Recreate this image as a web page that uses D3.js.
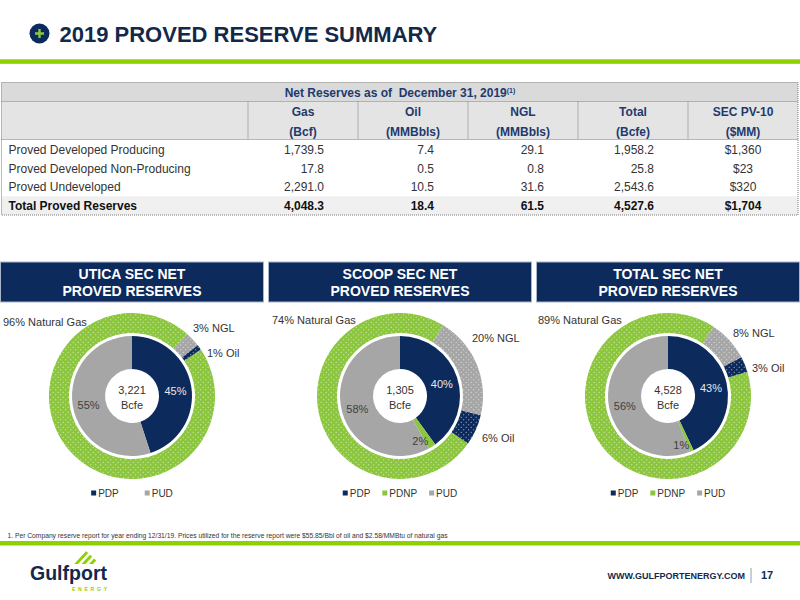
<!DOCTYPE html>
<html>
<head>
<meta charset="utf-8">
<script src="https://cdn.jsdelivr.net/npm/d3@7"></script>
<style>
  body { margin: 0; background: #fff; }
  svg { display: block; font-family: "Liberation Sans", Arial, sans-serif; }
</style>
</head>
<body>
<svg id="chart" width="800" height="600"></svg>
<script>
// ---- table data ----
const columns = ["Gas", "Oil", "NGL", "Total", "SEC PV-10"];
const units = ["(Bcf)", "(MMBbls)", "(MMBbls)", "(Bcfe)", "($MM)"];
const rowLabels = [
  "Proved Developed Producing",
  "Proved Developed Non-Producing",
  "Proved Undeveloped",
  "Total Proved Reserves"
];
const gasBcf = [1739.5, 17.8, 2291.0, 4048.3];
const oilMMBbls = [7.4, 0.5, 10.5, 18.4];
const nglMMBbls = [29.1, 0.8, 31.6, 61.5];
const totalBcfe = [1958.2, 25.8, 2543.6, 4527.6];
const pv10MM = [1360, 23, 320, 1704];

// ---- donut data ----
const panels = ["UTICA", "SCOOP", "TOTAL"];
const panelTotals = [3221, 1305, 4528];
const reserveCats = ["PDP", "PDNP", "PUD"];
const uticaReserves = [45, 0, 55];
const scoopReserves = [40, 2, 58];
const totalReserves = [43, 1, 56];
const fuelCats = ["Natural Gas", "NGL", "Oil"];
const uticaFuel = [96, 3, 1];
const scoopFuel = [74, 20, 6];
const totalFuel = [89, 8, 3];

const reserveShares = [uticaReserves, scoopReserves, totalReserves];
const fuelShares = [uticaFuel, scoopFuel, totalFuel];

// layout (not data): where the outer ring starts, and outer label offsets
const ringStartDeg = [56, 125, 73];
const fuelLabelOffsets = [
  [[-129, -70], [61, -64], [75, -39]],
  [[-128, -72], [72, -54], [82, 46]],
  [[-130, -72], [65, -59], [84, -24]]
];

const navy = "#0c2a5c";
const green = "#8cc63f";
const barGreen = "#8fd000";
const gray = "#a6a6a6";
const headNavy = "#1d3a6e";
const reserveColor = d3.scaleOrdinal().domain(reserveCats).range([navy, green, gray]);
const fuelColor = d3.scaleOrdinal().domain(fuelCats).range([green, gray, navy]);

const svg = d3.select("#chart");

// dotted fills for the outer ring
const defs = svg.append("defs");
fuelCats.forEach((c, k) => {
  const p = defs.append("pattern")
    .attr("id", `dots-${k}`)
    .attr("width", 5).attr("height", 5)
    .attr("patternUnits", "userSpaceOnUse");
  p.append("rect").attr("width", 5).attr("height", 5).attr("fill", fuelColor(c));
  p.append("circle").attr("cx", 1.2).attr("cy", 1.2).attr("r", 0.55).attr("fill", "#fff").attr("opacity", 0.8);
  p.append("circle").attr("cx", 3.7).attr("cy", 3.7).attr("r", 0.55).attr("fill", "#fff").attr("opacity", 0.8);
});

// ---- title ----
svg.append("circle").attr("cx", 39.5).attr("cy", 33.5).attr("r", 10).attr("fill", navy);
svg.append("path")
  .attr("d", "M35,33.5H44M39.5,29V38")
  .attr("stroke", green).attr("stroke-width", 2.4);
svg.append("text")
  .attr("x", 59.5).attr("y", 42)
  .attr("font-size", 22).attr("font-weight", "bold")
  .attr("fill", "#13294b")
  .text("2019 PROVED RESERVE SUMMARY");
svg.append("rect").attr("x", 0).attr("y", 59.3).attr("width", 800).attr("height", 4.5).attr("fill", barGreen);

// ---- table ----
const tableLeft = 1.5, tableRight = 798, tableTop = 82.5, tableBottom = 215;
const head1Bottom = 101.5, head2Bottom = 139.5;
const x = d3.scaleBand().domain(columns).range([248, 798]);
const y = d3.scaleBand().domain(rowLabels).range([140.5, tableBottom]);
const fmt1 = d3.format(",.1f");
const fmtUsd = (v) => "$" + d3.format(",")(v);
const tableCols = [gasBcf, oilMMBbls, nglMMBbls, totalBcfe, pv10MM];

const table = svg.append("g");
table.append("rect")
  .attr("x", tableLeft).attr("y", tableTop)
  .attr("width", tableRight - tableLeft).attr("height", head1Bottom - tableTop)
  .attr("fill", "#dadada");
table.append("rect")
  .attr("x", tableLeft).attr("y", head1Bottom)
  .attr("width", tableRight - tableLeft).attr("height", head2Bottom - head1Bottom)
  .attr("fill", "#e4e4e4");
table.append("rect")
  .attr("x", tableLeft).attr("y", y(rowLabels[3]))
  .attr("width", tableRight - tableLeft).attr("height", y.bandwidth())
  .attr("fill", "#f0f0f0");

const dotted = (sel) => sel.attr("stroke", "#7a7a7a").attr("stroke-width", 1).attr("stroke-dasharray", "1,1").attr("fill", "none");
table.append("rect")
  .attr("x", tableLeft).attr("y", tableTop)
  .attr("width", tableRight - tableLeft).attr("height", tableBottom - tableTop)
  .call(dotted);
[head1Bottom, head2Bottom].forEach((yy) => {
  table.append("line").attr("x1", tableLeft).attr("x2", tableRight).attr("y1", yy).attr("y2", yy).call(dotted);
});
columns.forEach((c) => {
  table.append("line").attr("x1", x(c)).attr("x2", x(c)).attr("y1", head1Bottom).attr("y2", head2Bottom).call(dotted);
});

const titleText = table.append("text")
  .attr("x", 400).attr("y", 96.5)
  .attr("text-anchor", "middle")
  .attr("font-size", 12).attr("font-weight", "bold").attr("fill", headNavy);
titleText.append("tspan").text("Net Reserves as of\u00a0 December 31, 2019");
titleText.append("tspan").attr("font-size", 7).attr("dy", -4).text("(1)");

columns.forEach((c, i) => {
  const cx = x(c) + x.bandwidth() / 2;
  table.append("text").attr("x", cx).attr("y", 116)
    .attr("text-anchor", "middle").attr("font-size", 12).attr("font-weight", "bold")
    .attr("fill", headNavy).text(c);
  table.append("text").attr("x", cx).attr("y", 136)
    .attr("text-anchor", "middle").attr("font-size", 12).attr("font-weight", "bold")
    .attr("fill", headNavy).text(units[i]);
});

rowLabels.forEach((r, j) => {
  const isTotal = j === rowLabels.length - 1;
  const ty = y(r) + y.bandwidth() / 2 + 4.2;
  table.append("text").attr("x", 8.5).attr("y", ty)
    .attr("font-size", 12).attr("font-weight", isTotal ? "bold" : "normal")
    .attr("fill", isTotal ? "#111" : "#333").text(r);
  tableCols.forEach((vals, i) => {
    const c = columns[i];
    const isPv = i === columns.length - 1;
    table.append("text")
      .attr("x", isPv ? x(c) + x.bandwidth() / 2 : x(c) + x.bandwidth() - 34)
      .attr("y", ty)
      .attr("text-anchor", isPv ? "middle" : "end")
      .attr("font-size", 12).attr("font-weight", isTotal ? "bold" : "normal")
      .attr("fill", isTotal ? "#111" : "#333")
      .text(isPv ? fmtUsd(vals[j]) : fmt1(vals[j]));
  });
});

// ---- donut panels ----
const panelGap = 4;
const panelW = (800 - panelGap * 2) / 3;
const donutY = 396;
const holeR = 27, pieR = 60, ringIn = 63, ringOut = 83;
const innerArc = d3.arc().innerRadius(holeR).outerRadius(pieR);
const ringArc = d3.arc().innerRadius(ringIn).outerRadius(ringOut);

panels.forEach((name, i) => {
  const px = i * (panelW + panelGap);
  const cx = px + panelW / 2;

  svg.append("rect")
    .attr("x", px + 0.5).attr("y", 262)
    .attr("width", panelW - 1).attr("height", 40)
    .attr("fill", navy).attr("stroke", "#a8b6cb").attr("stroke-width", 1);
  svg.append("text").attr("x", cx).attr("y", 278.5)
    .attr("text-anchor", "middle").attr("font-size", 14).attr("font-weight", "bold")
    .attr("fill", "#fff").text(`${name} SEC NET`);
  svg.append("text").attr("x", cx).attr("y", 296)
    .attr("text-anchor", "middle").attr("font-size", 14).attr("font-weight", "bold")
    .attr("fill", "#fff").text("PROVED RESERVES");

  const g = svg.append("g").attr("transform", `translate(${cx},${donutY})`);

  // outer ring: fuel mix
  const rot = (ringStartDeg[i] * Math.PI) / 180;
  const fuelData = fuelCats.map((c, k) => ({ cat: c, k, value: fuelShares[i][k] }));
  const fuelPie = d3.pie().sort(null).value((d) => d.value)
    .startAngle(rot).endAngle(rot + 2 * Math.PI);
  g.selectAll("path.ring")
    .data(fuelPie(fuelData))
    .enter()
    .append("path")
    .attr("class", "ring")
    .attr("d", ringArc)
    .attr("fill", (d) => `url(#dots-${d.data.k})`);

  g.selectAll("text.fuel")
    .data(fuelData)
    .enter()
    .append("text")
    .attr("class", "fuel")
    .attr("x", (d) => fuelLabelOffsets[i][d.k][0])
    .attr("y", (d) => fuelLabelOffsets[i][d.k][1])
    .attr("font-size", 11).attr("fill", "#333")
    .text((d) => `${d.value}% ${d.cat}`);

  // inner pie: reserve category
  const resData = reserveCats.map((c, k) => ({ cat: c, value: reserveShares[i][k] }));
  const resPie = d3.pie().sort(null).value((d) => d.value);
  const arcs = resPie(resData).filter((d) => d.data.value > 0);
  g.selectAll("path.res")
    .data(arcs)
    .enter()
    .append("path")
    .attr("class", "res")
    .attr("d", innerArc)
    .attr("fill", (d) => reserveColor(d.data.cat));

  g.selectAll("text.res")
    .data(arcs)
    .enter()
    .append("text")
    .attr("class", "res")
    .attr("transform", (d) => {
      const small = d.data.value < 5;
      const r = small ? 51 : 44;
      const a = (d.startAngle + d.endAngle) / 2;
      const lx = Math.sin(a) * r - (small ? 7 : 0);
      const ly = -Math.cos(a) * r + 2;
      return `translate(${lx},${ly})`;
    })
    .attr("text-anchor", "middle")
    .attr("dominant-baseline", "central")
    .attr("font-size", 11)
    .attr("fill", (d) => (d.data.cat === "PDP" ? "#e8e8e8" : "#404040"))
    .text((d) => `${d.data.value}%`);

  g.append("text").attr("y", -2).attr("text-anchor", "middle")
    .attr("font-size", 11).attr("fill", "#333")
    .text(d3.format(",")(panelTotals[i]));
  g.append("text").attr("y", 13).attr("text-anchor", "middle")
    .attr("font-size", 11).attr("fill", "#333").text("Bcfe");

  // legend
  const legend = svg.append("g");
  const gap = i === 0 ? 26 : 12;
  let lx = 0;
  resData.filter((d) => d.value > 0).forEach((d) => {
    const item = legend.append("g").attr("transform", `translate(${lx},0)`);
    item.append("rect").attr("x", 0).attr("y", -2.5).attr("width", 5).attr("height", 5)
      .attr("fill", reserveColor(d.cat));
    const t = item.append("text").attr("x", 7).attr("y", 3.6)
      .attr("font-size", 10).attr("fill", "#333").text(d.cat);
    lx += 7 + t.node().getComputedTextLength() + gap;
  });
  legend.attr("transform", `translate(${cx - (lx - gap) / 2},493)`);
});

// ---- footer ----
svg.append("text")
  .attr("x", 7.5).attr("y", 538)
  .attr("font-size", 6.4).attr("fill", "#333")
  .attr("textLength", 440).attr("lengthAdjust", "spacingAndGlyphs")
  .text("1. Per Company reserve report for year ending 12/31/19. Prices utilized for the reserve report were $55.85/Bbl of oil and $2.58/MMBtu of natural gas");
svg.append("rect").attr("x", 0).attr("y", 541).attr("width", 800).attr("height", 4.5).attr("fill", barGreen);

// logo
const logo = svg.append("g");
defs.append("clipPath").attr("id", "logoClip")
  .append("polygon").attr("points", "74,564 86,551 100,564");
const stripes = logo.append("g").attr("clip-path", "url(#logoClip)");
[0, 1, 2].forEach((s) => {
  const x0 = 74 + s * 7.5;
  stripes.append("polygon")
    .attr("points", `${x0},564 ${x0 + 4},564 ${x0 + 16},551 ${x0 + 12},551`)
    .attr("fill", barGreen);
});
logo.append("text")
  .attr("x", 30).attr("y", 579.5)
  .attr("font-family", "'Liberation Sans Narrow', 'Liberation Sans', Arial, sans-serif")
  .attr("font-size", 21).attr("font-weight", "bold").attr("fill", "#13294b")
  .attr("textLength", 77).attr("lengthAdjust", "spacingAndGlyphs")
  .text("Gulfport");
logo.append("text")
  .attr("x", 72).attr("y", 590.5)
  .attr("font-size", 5).attr("font-weight", "bold").attr("fill", barGreen)
  .attr("textLength", 35).attr("lengthAdjust", "spacing")
  .text("ENERGY");

svg.append("text")
  .attr("x", 745).attr("y", 578.5)
  .attr("text-anchor", "end")
  .attr("font-size", 9).attr("font-weight", "bold").attr("fill", "#13294b")
  .text("WWW.GULFPORTENERGY.COM");
svg.append("line")
  .attr("x1", 751).attr("x2", 751).attr("y1", 568).attr("y2", 583)
  .attr("stroke", "#8da0bb").attr("stroke-width", 1);
svg.append("text")
  .attr("x", 761).attr("y", 579)
  .attr("font-size", 11).attr("font-weight", "bold").attr("fill", "#13294b")
  .text("17");
</script>
</body>
</html>
